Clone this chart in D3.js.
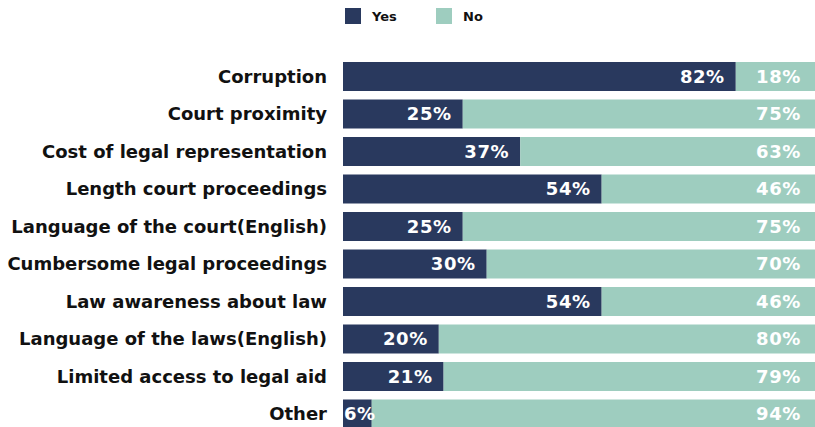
<!DOCTYPE html>
<html>
<head>
<meta charset="utf-8">
<script src="https://cdn.jsdelivr.net/npm/d3@7"></script>
<style>
  html, body { margin: 0; padding: 0; background: #ffffff; }
  svg { display: block; }
</style>
</head>
<body>
<svg id="chart" width="815" height="427"></svg>
<script>
// Barriers to accessing justice: share of respondents answering Yes / No
const categories = [
  "Corruption",
  "Court proximity",
  "Cost of legal representation",
  "Length court proceedings",
  "Language of the court(English)",
  "Cumbersome legal proceedings",
  "Law awareness about law",
  "Language of the laws(English)",
  "Limited access to legal aid",
  "Other"
];
const yesValues = [82, 25, 37, 54, 25, 30, 54, 20, 21, 6];
const noValues  = [18, 75, 63, 46, 75, 70, 46, 80, 79, 94];
const seriesNames = ["Yes", "No"];
const seriesColors = ["#29395e", "#9ecdbf"];

const svg = d3.select("#chart");
const labelFont = "'DejaVu Sans', sans-serif";
const valueFont = "'DejaVu Sans', sans-serif";

const x = d3.scaleLinear().domain([0, 100]).range([343, 822]);
const y = d3.scaleBand()
  .domain(categories)
  .range([57.75, 432.75])
  .paddingInner(0.2267)
  .paddingOuter(0.1133);

const rows = categories.map((c, i) => ({ cat: c, yes: yesValues[i], no: noValues[i] }));

// category labels
svg.append("g").selectAll("text")
  .data(rows)
  .join("text")
  .attr("x", 327)
  .attr("y", d => y(d.cat) + y.bandwidth() / 2)
  .attr("dy", "0.36em")
  .attr("text-anchor", "end")
  .attr("font-family", labelFont)
  .attr("font-weight", "bold")
  .attr("font-size", 18)
  .attr("fill", "#111111")
  .text(d => d.cat);

const bars = svg.append("g");

// Yes segments
bars.selectAll("rect.yes")
  .data(rows)
  .join("rect")
  .attr("class", "yes")
  .attr("x", x(0))
  .attr("y", d => y(d.cat))
  .attr("width", d => x(d.yes) - x(0))
  .attr("height", y.bandwidth())
  .attr("fill", seriesColors[0]);

// No segments
bars.selectAll("rect.no")
  .data(rows)
  .join("rect")
  .attr("class", "no")
  .attr("x", d => x(d.yes))
  .attr("y", d => y(d.cat))
  .attr("width", d => x(d.yes + d.no) - x(d.yes))
  .attr("height", y.bandwidth())
  .attr("fill", seriesColors[1]);

// value labels
const valueText = svg.append("g")
  .attr("font-family", valueFont)
  .attr("font-weight", "bold")
  .attr("font-size", 18)
  .attr("letter-spacing", 0.6)
  .attr("fill", "#ffffff");

valueText.selectAll("text.yes")
  .data(rows)
  .join("text")
  .attr("class", "yes")
  .attr("y", d => y(d.cat) + y.bandwidth() / 2)
  .attr("dy", "0.36em")
  .text(d => d.yes + "%")
  .each(function(d) {
    const w = this.getComputedTextLength();
    const end = x(d.yes) - 11;
    if (end - w < x(0)) {
      d3.select(this).attr("x", x(0) + 1).attr("text-anchor", "start");
    } else {
      d3.select(this).attr("x", end).attr("text-anchor", "end");
    }
  });

valueText.selectAll("text.no")
  .data(rows)
  .join("text")
  .attr("class", "no")
  .attr("x", 801)
  .attr("y", d => y(d.cat) + y.bandwidth() / 2)
  .attr("dy", "0.36em")
  .attr("text-anchor", "end")
  .text(d => d.no + "%");

// legend
const legend = svg.append("g");
const legendX = [345, 436];
seriesNames.forEach((name, i) => {
  legend.append("rect")
    .attr("x", legendX[i])
    .attr("y", 8)
    .attr("width", 16)
    .attr("height", 16)
    .attr("fill", seriesColors[i]);
  legend.append("text")
    .attr("x", legendX[i] + 27)
    .attr("y", 16)
    .attr("dy", "0.36em")
    .attr("font-family", labelFont)
    .attr("font-weight", "bold")
    .attr("font-size", 13)
    .attr("fill", "#111111")
    .text(name);
});
</script>
</body>
</html>
